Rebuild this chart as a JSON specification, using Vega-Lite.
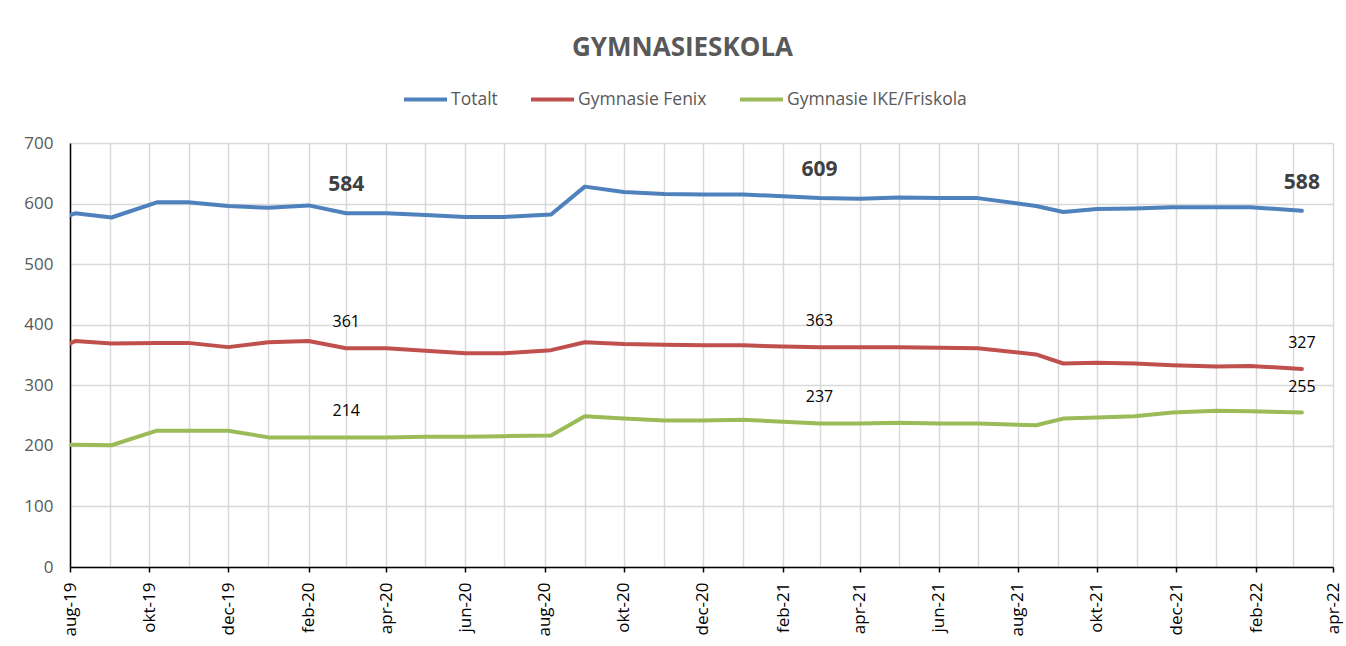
{
  "$schema": "https://vega.github.io/schema/vega-lite/v6.json",
  "width": 1263,
  "height": 424,
  "autosize": {"type": "none"},
  "padding": {"left": 70, "top": 143, "right": 13, "bottom": 79},
  "background": "white",
  "title": {
    "text": "GYMNASIESKOLA",
    "anchor": "middle",
    "font": "Open Sans",
    "fontSize": 26,
    "fontWeight": "bold",
    "color": "#595959",
    "offset": 15,
    "dx": -19
  },
  "datasets": {
    "rows": [
      {"date": "2019-08-01T00:00:00", "Totalt": 581, "Gymnasie Fenix": 369, "Gymnasie IKE/Friskola": 202},
      {"date": "2019-08-05T00:00:00", "Totalt": 584, "Gymnasie Fenix": 373, "Gymnasie IKE/Friskola": 202},
      {"date": "2019-09-02T00:00:00", "Totalt": 577, "Gymnasie Fenix": 369, "Gymnasie IKE/Friskola": 201},
      {"date": "2019-10-07T00:00:00", "Totalt": 602, "Gymnasie Fenix": 370, "Gymnasie IKE/Friskola": 225},
      {"date": "2019-10-31T00:00:00", "Totalt": 602, "Gymnasie Fenix": 370, "Gymnasie IKE/Friskola": 225},
      {"date": "2019-12-01T00:00:00", "Totalt": 596, "Gymnasie Fenix": 363, "Gymnasie IKE/Friskola": 225},
      {"date": "2020-01-01T00:00:00", "Totalt": 593, "Gymnasie Fenix": 371, "Gymnasie IKE/Friskola": 214},
      {"date": "2020-02-01T00:00:00", "Totalt": 597, "Gymnasie Fenix": 373, "Gymnasie IKE/Friskola": 214},
      {"date": "2020-03-01T00:00:00", "Totalt": 584, "Gymnasie Fenix": 361, "Gymnasie IKE/Friskola": 214},
      {"date": "2020-04-01T00:00:00", "Totalt": 584, "Gymnasie Fenix": 361, "Gymnasie IKE/Friskola": 214},
      {"date": "2020-05-01T00:00:00", "Totalt": 581, "Gymnasie Fenix": 357, "Gymnasie IKE/Friskola": 215},
      {"date": "2020-06-01T00:00:00", "Totalt": 578, "Gymnasie Fenix": 353, "Gymnasie IKE/Friskola": 215},
      {"date": "2020-07-01T00:00:00", "Totalt": 578, "Gymnasie Fenix": 353, "Gymnasie IKE/Friskola": 216},
      {"date": "2020-08-06T00:00:00", "Totalt": 582, "Gymnasie Fenix": 358, "Gymnasie IKE/Friskola": 217},
      {"date": "2020-09-01T00:00:00", "Totalt": 628, "Gymnasie Fenix": 371, "Gymnasie IKE/Friskola": 249},
      {"date": "2020-10-01T00:00:00", "Totalt": 619, "Gymnasie Fenix": 368, "Gymnasie IKE/Friskola": 245},
      {"date": "2020-11-01T00:00:00", "Totalt": 616, "Gymnasie Fenix": 367, "Gymnasie IKE/Friskola": 242},
      {"date": "2020-12-01T00:00:00", "Totalt": 615, "Gymnasie Fenix": 366, "Gymnasie IKE/Friskola": 242},
      {"date": "2021-01-01T00:00:00", "Totalt": 615, "Gymnasie Fenix": 366, "Gymnasie IKE/Friskola": 243},
      {"date": "2021-02-01T00:00:00", "Totalt": 612, "Gymnasie Fenix": 364, "Gymnasie IKE/Friskola": 240},
      {"date": "2021-03-01T00:00:00", "Totalt": 609, "Gymnasie Fenix": 363, "Gymnasie IKE/Friskola": 237},
      {"date": "2021-04-01T00:00:00", "Totalt": 608, "Gymnasie Fenix": 363, "Gymnasie IKE/Friskola": 237},
      {"date": "2021-05-01T00:00:00", "Totalt": 610, "Gymnasie Fenix": 363, "Gymnasie IKE/Friskola": 238},
      {"date": "2021-06-01T00:00:00", "Totalt": 609, "Gymnasie Fenix": 362, "Gymnasie IKE/Friskola": 237},
      {"date": "2021-07-01T00:00:00", "Totalt": 609, "Gymnasie Fenix": 361, "Gymnasie IKE/Friskola": 237},
      {"date": "2021-08-15T00:00:00", "Totalt": 596, "Gymnasie Fenix": 351, "Gymnasie IKE/Friskola": 234},
      {"date": "2021-09-05T00:00:00", "Totalt": 586, "Gymnasie Fenix": 336, "Gymnasie IKE/Friskola": 245},
      {"date": "2021-10-01T00:00:00", "Totalt": 591, "Gymnasie Fenix": 337, "Gymnasie IKE/Friskola": 247},
      {"date": "2021-10-30T00:00:00", "Totalt": 592, "Gymnasie Fenix": 336, "Gymnasie IKE/Friskola": 249},
      {"date": "2021-11-28T00:00:00", "Totalt": 594, "Gymnasie Fenix": 333, "Gymnasie IKE/Friskola": 255},
      {"date": "2022-01-01T00:00:00", "Totalt": 594, "Gymnasie Fenix": 331, "Gymnasie IKE/Friskola": 258},
      {"date": "2022-01-27T00:00:00", "Totalt": 594, "Gymnasie Fenix": 332, "Gymnasie IKE/Friskola": 257},
      {"date": "2022-03-08T00:00:00", "Totalt": 588, "Gymnasie Fenix": 327, "Gymnasie IKE/Friskola": 255}
    ]
  },
  "data": {"name": "rows"},
  "transform": [
    {"fold": ["Totalt", "Gymnasie Fenix", "Gymnasie IKE/Friskola"], "as": ["series", "value"]}
  ],
  "encoding": {
    "x": {
      "field": "date",
      "type": "temporal",
      "scale": {"domain": [{"year": 2019, "month": 8, "date": 1}, {"year": 2022, "month": 4, "date": 1}]},
      "axis": {
        "title": null,
        "values": [
          {"year": 2019, "month": 8, "date": 1}, {"year": 2019, "month": 9, "date": 1}, {"year": 2019, "month": 10, "date": 1}, {"year": 2019, "month": 11, "date": 1}, {"year": 2019, "month": 12, "date": 1},
          {"year": 2020, "month": 1, "date": 1}, {"year": 2020, "month": 2, "date": 1}, {"year": 2020, "month": 3, "date": 1}, {"year": 2020, "month": 4, "date": 1}, {"year": 2020, "month": 5, "date": 1}, {"year": 2020, "month": 6, "date": 1},
          {"year": 2020, "month": 7, "date": 1}, {"year": 2020, "month": 8, "date": 1}, {"year": 2020, "month": 9, "date": 1}, {"year": 2020, "month": 10, "date": 1}, {"year": 2020, "month": 11, "date": 1}, {"year": 2020, "month": 12, "date": 1},
          {"year": 2021, "month": 1, "date": 1}, {"year": 2021, "month": 2, "date": 1}, {"year": 2021, "month": 3, "date": 1}, {"year": 2021, "month": 4, "date": 1}, {"year": 2021, "month": 5, "date": 1}, {"year": 2021, "month": 6, "date": 1},
          {"year": 2021, "month": 7, "date": 1}, {"year": 2021, "month": 8, "date": 1}, {"year": 2021, "month": 9, "date": 1}, {"year": 2021, "month": 10, "date": 1}, {"year": 2021, "month": 11, "date": 1}, {"year": 2021, "month": 12, "date": 1},
          {"year": 2022, "month": 1, "date": 1}, {"year": 2022, "month": 2, "date": 1}, {"year": 2022, "month": 3, "date": 1}, {"year": 2022, "month": 4, "date": 1}
        ],
        "labelExpr": "month(datum.value) % 2 == 1 ? ['jan','feb','mar','apr','maj','jun','jul','aug','sep','okt','nov','dec'][month(datum.value)] + '-' + timeFormat(datum.value, '%y') : ''",
        "labelAngle": -90,
        "labelAlign": "right",
        "labelBaseline": "middle",
        "labelFont": "Open Sans",
        "labelFontSize": 17,
        "labelColor": "#000000",
        "labelPadding": 10,
        "labelOverlap": false,
        "labelFlush": false,
        "labelBound": false,
        "tickSize": 5,
        "tickColor": "#000000",
        "tickWidth": 1.5,
        "tickOpacity": {"condition": {"test": "month(datum.value) % 2 == 1", "value": 1}, "value": 0},
        "domainColor": "#000000",
        "domainWidth": 1.5,
        "grid": true,
        "gridColor": "#d9d9d9",
        "gridWidth": 1.5
      }
    },
    "y": {
      "field": "value",
      "type": "quantitative",
      "scale": {"domain": [0, 700], "nice": false},
      "axis": {
        "title": null,
        "values": [0, 100, 200, 300, 400, 500, 600, 700],
        "ticks": false,
        "labelPadding": 17,
        "labelFont": "Open Sans",
        "labelFontSize": 17,
        "labelColor": "#595959",
        "domainColor": "#000000",
        "domainWidth": 1.5,
        "grid": true,
        "gridColor": "#d9d9d9",
        "gridWidth": 1.5
      }
    }
  },
  "layer": [
    {
      "mark": {"type": "line", "strokeWidth": 4, "strokeCap": "round", "strokeJoin": "round", "clip": true},
      "encoding": {
        "color": {
          "field": "series",
          "type": "nominal",
          "scale": {"domain": ["Totalt", "Gymnasie Fenix", "Gymnasie IKE/Friskola"], "range": ["#4f81bd", "#c0504d", "#9bbb59"]},
          "legend": {
            "orient": "none",
            "direction": "horizontal",
            "legendX": 332,
            "legendY": -67,
            "title": null,
            "symbolType": "stroke",
            "symbolSize": 1849,
            "symbolStrokeWidth": 4,
            "labelFont": "Open Sans",
            "labelFontSize": 17.5,
            "labelColor": "#595959",
            "labelOffset": 2,
            "labelLimit": 400,
            "columnPadding": 25
          }
        }
      }
    },
    {
      "transform": [
        {"filter": "datum.series == 'Totalt' && month(datum.date) == 2"}
      ],
      "mark": {"type": "text", "font": "Open Sans", "fontSize": 21, "fontWeight": "bold", "color": "#404040", "baseline": "middle", "dy": -28},
      "encoding": {"text": {"field": "value", "type": "quantitative"}}
    },
    {
      "transform": [
        {"filter": "datum.series != 'Totalt' && month(datum.date) == 2"}
      ],
      "mark": {"type": "text", "font": "Open Sans", "fontSize": 16, "color": "#000000", "baseline": "middle", "dy": -26},
      "encoding": {"text": {"field": "value", "type": "quantitative"}}
    }
  ],
  "config": {"view": {"stroke": null}}
}
